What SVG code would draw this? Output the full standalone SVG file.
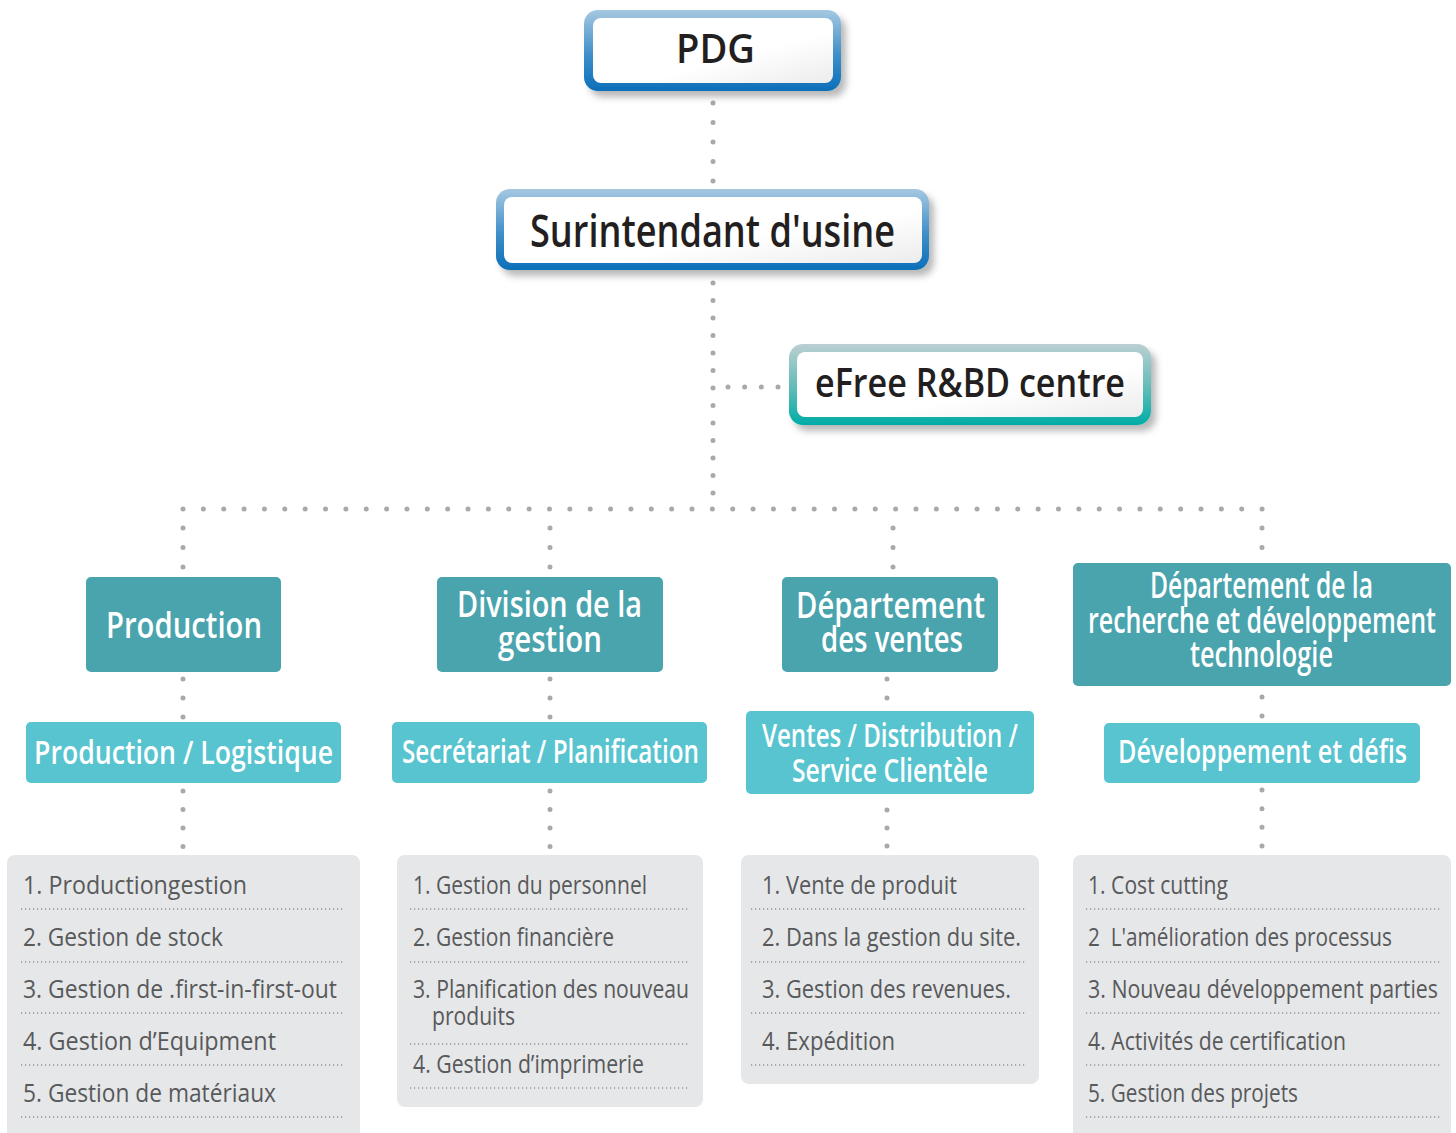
<svg xmlns="http://www.w3.org/2000/svg" width="1456" height="1133" viewBox="0 0 1456 1133">
<defs>
<linearGradient id="gBlue" x1="0" y1="0" x2="0" y2="1">
<stop offset="0" stop-color="#a6c8e1"/><stop offset="0.55" stop-color="#3f8fc9"/><stop offset="1" stop-color="#0b6fb8"/>
</linearGradient>
<linearGradient id="gTeal" x1="0" y1="0" x2="0" y2="1">
<stop offset="0" stop-color="#bccfd1"/><stop offset="0.55" stop-color="#5fbcb8"/><stop offset="1" stop-color="#00aca6"/>
</linearGradient>
<linearGradient id="gInner" x1="0" y1="0" x2="1" y2="1">
<stop offset="0" stop-color="#ffffff"/><stop offset="0.6" stop-color="#ffffff"/><stop offset="1" stop-color="#ececec"/>
</linearGradient>
<filter id="shadow" x="-10%" y="-20%" width="130%" height="160%">
<feDropShadow dx="5" dy="6" stdDeviation="3.5" flood-color="#000" flood-opacity="0.28"/>
</filter>
</defs>
<style>
.top{font-family:'Open Sans','Noto Sans','Liberation Sans',sans-serif;font-weight:600;fill:#231f20;text-anchor:middle}
.dept{fill:#4aa4ad}
.sub{fill:#57c4cf}
.wt{font-family:'Open Sans','Noto Sans','Liberation Sans',sans-serif;font-weight:600;fill:#ffffff;text-anchor:middle}
.d{font-size:36px}
.s{font-size:32px}
.panel{fill:#e6e7e8}
.li{font-family:'Open Sans','Noto Sans','Liberation Sans',sans-serif;font-size:26px;fill:#58595b}
.sep{stroke:#939598;stroke-width:1.3;stroke-dasharray:1.2 2.8;fill:none}
.dot{stroke:#a7a9ac;stroke-width:5;stroke-linecap:round;fill:none}
</style>
<rect width="1456" height="1133" fill="#ffffff"/>

<g id="connectors">
<line class="dot" x1="713" y1="103" x2="713" y2="181.5" stroke-dasharray="0 19.5"/>
<line class="dot" x1="713" y1="283" x2="713" y2="493.5" stroke-dasharray="0 17.5"/>
<line class="dot" x1="728" y1="387" x2="778.5" y2="387" stroke-dasharray="0 16.67"/>
<line class="dot" x1="183" y1="509" x2="1262.5" y2="509" stroke-dasharray="0 20.36"/>
<line class="dot" x1="183" y1="528" x2="183" y2="567.5" stroke-dasharray="0 19.5"/>
<line class="dot" x1="550" y1="528" x2="550" y2="567.5" stroke-dasharray="0 19.5"/>
<line class="dot" x1="893" y1="528" x2="893" y2="567.5" stroke-dasharray="0 19.5"/>
<line class="dot" x1="1262" y1="528" x2="1262" y2="548" stroke-dasharray="0 19.5"/>
<line class="dot" x1="183" y1="679" x2="183" y2="717.5" stroke-dasharray="0 19"/>
<line class="dot" x1="550" y1="679" x2="550" y2="717.5" stroke-dasharray="0 19"/>
<line class="dot" x1="887" y1="679" x2="887" y2="698.5" stroke-dasharray="0 19"/>
<line class="dot" x1="1262" y1="697" x2="1262" y2="716.5" stroke-dasharray="0 19"/>
<line class="dot" x1="183" y1="791" x2="183" y2="847" stroke-dasharray="0 18.5"/>
<line class="dot" x1="550" y1="791" x2="550" y2="847" stroke-dasharray="0 18.5"/>
<line class="dot" x1="887" y1="810" x2="887" y2="846.5" stroke-dasharray="0 18"/>
<line class="dot" x1="1262" y1="790" x2="1262" y2="846.5" stroke-dasharray="0 18.67"/>
</g>

<g id="pdg">
<rect x="584" y="10" width="257" height="81" rx="14" fill="url(#gBlue)" filter="url(#shadow)"/>
<rect x="593" y="18" width="240" height="65" rx="8" fill="url(#gInner)"/>
<text class="top" x="715.5" y="63" font-size="40" textLength="79" lengthAdjust="spacingAndGlyphs">PDG</text>
</g>

<g id="surintendant">
<rect x="496" y="189" width="433" height="81" rx="14" fill="url(#gBlue)" filter="url(#shadow)"/>
<rect x="504" y="197" width="418" height="66" rx="8" fill="url(#gInner)"/>
<text class="top" x="712.5" y="247" font-size="45" textLength="365" lengthAdjust="spacingAndGlyphs">Surintendant d'usine</text>
</g>

<g id="efree">
<rect x="789" y="344" width="362" height="81" rx="14" fill="url(#gTeal)" filter="url(#shadow)"/>
<rect x="797" y="352" width="346" height="65" rx="8" fill="url(#gInner)"/>
<text class="top" x="970" y="397" font-size="40" textLength="310" lengthAdjust="spacingAndGlyphs">eFree R&amp;BD centre</text>
</g>

<g id="production">
<rect class="dept" x="86" y="577" width="195" height="95" rx="5"/>
<text class="wt d" x="184" y="638" textLength="156" lengthAdjust="spacingAndGlyphs">Production</text>
</g>
<g id="production-logistique">
<rect class="sub" x="26" y="722" width="315" height="61" rx="5"/>
<text class="wt s" x="183.5" y="764" textLength="299" lengthAdjust="spacingAndGlyphs">Production / Logistique</text>
</g>

<g id="division-gestion">
<rect class="dept" x="437" y="577" width="226" height="95" rx="5"/>
<text class="wt d" x="549.5" y="617" textLength="185" lengthAdjust="spacingAndGlyphs">Division de la</text>
<text class="wt d" x="550" y="652" textLength="104" lengthAdjust="spacingAndGlyphs">gestion</text>
</g>
<g id="secretariat">
<rect class="sub" x="392" y="722" width="315" height="61" rx="5"/>
<text class="wt s" x="550.5" y="763" textLength="297" lengthAdjust="spacingAndGlyphs">Secrétariat / Planification</text>
</g>

<g id="ventes">
<rect class="dept" x="782" y="577" width="216" height="95" rx="5"/>
<text class="wt d" x="890.5" y="618" textLength="189" lengthAdjust="spacingAndGlyphs">Département</text>
<text class="wt d" x="892" y="652" textLength="142" lengthAdjust="spacingAndGlyphs">des ventes</text>
</g>
<g id="ventes-distribution">
<rect class="sub" x="746" y="711" width="288" height="83" rx="5"/>
<text class="wt s" x="890" y="747" textLength="256" lengthAdjust="spacingAndGlyphs">Ventes / Distribution /</text>
<text class="wt s" x="890" y="782" textLength="196" lengthAdjust="spacingAndGlyphs">Service Clientèle</text>
</g>

<g id="recherche">
<rect class="dept" x="1073" y="563" width="378" height="123" rx="5"/>
<text class="wt d" x="1261.5" y="598" textLength="223" lengthAdjust="spacingAndGlyphs">Département de la</text>
<text class="wt d" x="1262" y="633" textLength="348" lengthAdjust="spacingAndGlyphs">recherche et développement</text>
<text class="wt d" x="1261.5" y="667" textLength="143" lengthAdjust="spacingAndGlyphs">technologie</text>
</g>
<g id="developpement">
<rect class="sub" x="1104" y="723" width="316" height="60" rx="5"/>
<text class="wt s" x="1262.5" y="763" textLength="289" lengthAdjust="spacingAndGlyphs">Développement et défis</text>
</g>

<g id="list-production">
<rect class="panel" x="7" y="855" width="353" height="300" rx="8"/>
<text class="li" x="23" y="894" textLength="224" lengthAdjust="spacingAndGlyphs">1. Productiongestion</text>
<line class="sep" x1="21" y1="909" x2="343" y2="909"/>
<text class="li" x="23" y="946" textLength="200" lengthAdjust="spacingAndGlyphs">2. Gestion de stock</text>
<line class="sep" x1="21" y1="962" x2="343" y2="962"/>
<text class="li" x="23" y="998" textLength="314" lengthAdjust="spacingAndGlyphs">3. Gestion de .first-in-first-out</text>
<line class="sep" x1="21" y1="1013" x2="343" y2="1013"/>
<text class="li" x="23" y="1050" textLength="253" lengthAdjust="spacingAndGlyphs">4. Gestion d’Equipment</text>
<line class="sep" x1="21" y1="1065" x2="343" y2="1065"/>
<text class="li" x="23" y="1102" textLength="253" lengthAdjust="spacingAndGlyphs">5. Gestion de matériaux</text>
<line class="sep" x1="21" y1="1117" x2="343" y2="1117"/>
</g>

<g id="list-gestion">
<rect class="panel" x="397" y="855" width="306" height="252" rx="8"/>
<text class="li" x="413" y="894" textLength="234" lengthAdjust="spacingAndGlyphs">1. Gestion du personnel</text>
<line class="sep" x1="410" y1="909" x2="690" y2="909"/>
<text class="li" x="413" y="946" textLength="201" lengthAdjust="spacingAndGlyphs">2. Gestion financière</text>
<line class="sep" x1="410" y1="962" x2="690" y2="962"/>
<text class="li" x="413" y="998" textLength="276" lengthAdjust="spacingAndGlyphs">3. Planification des nouveau</text>
<text class="li" x="432" y="1025" textLength="83" lengthAdjust="spacingAndGlyphs">produits</text>
<line class="sep" x1="410" y1="1044" x2="690" y2="1044"/>
<text class="li" x="413" y="1073" textLength="231" lengthAdjust="spacingAndGlyphs">4. Gestion d’imprimerie</text>
<line class="sep" x1="410" y1="1088" x2="690" y2="1088"/>
</g>

<g id="list-ventes">
<rect class="panel" x="741" y="855" width="298" height="229" rx="8"/>
<text class="li" x="762" y="894" textLength="195" lengthAdjust="spacingAndGlyphs">1. Vente de produit</text>
<line class="sep" x1="751" y1="909" x2="1026" y2="909"/>
<text class="li" x="762" y="946" textLength="259" lengthAdjust="spacingAndGlyphs">2. Dans la gestion du site.</text>
<line class="sep" x1="751" y1="962" x2="1026" y2="962"/>
<text class="li" x="762" y="998" textLength="249" lengthAdjust="spacingAndGlyphs">3. Gestion des revenues.</text>
<line class="sep" x1="751" y1="1013" x2="1026" y2="1013"/>
<text class="li" x="762" y="1050" textLength="133" lengthAdjust="spacingAndGlyphs">4. Expédition</text>
<line class="sep" x1="751" y1="1065" x2="1026" y2="1065"/>
</g>

<g id="list-recherche">
<rect class="panel" x="1073" y="855" width="378" height="300" rx="8"/>
<text class="li" x="1088" y="894" textLength="140" lengthAdjust="spacingAndGlyphs">1. Cost cutting</text>
<line class="sep" x1="1086" y1="909" x2="1441" y2="909"/>
<text class="li" x="1088" y="946" textLength="304" lengthAdjust="spacingAndGlyphs" xml:space="preserve">2  L'amélioration des processus</text>
<line class="sep" x1="1086" y1="962" x2="1441" y2="962"/>
<text class="li" x="1088" y="998" textLength="350" lengthAdjust="spacingAndGlyphs">3. Nouveau développement parties</text>
<line class="sep" x1="1086" y1="1013" x2="1441" y2="1013"/>
<text class="li" x="1088" y="1050" textLength="258" lengthAdjust="spacingAndGlyphs">4. Activités de certification</text>
<line class="sep" x1="1086" y1="1065" x2="1441" y2="1065"/>
<text class="li" x="1088" y="1102" textLength="210" lengthAdjust="spacingAndGlyphs">5. Gestion des projets</text>
<line class="sep" x1="1086" y1="1117" x2="1441" y2="1117"/>
</g>
</svg>
